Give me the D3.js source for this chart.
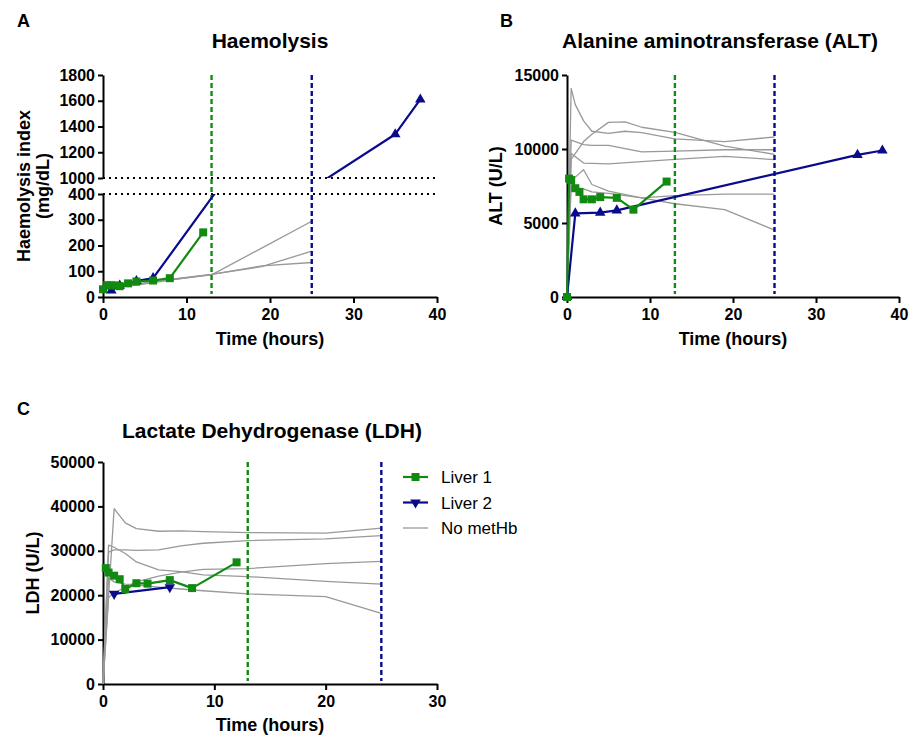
<!DOCTYPE html>
<html><head><meta charset="utf-8">
<script src="https://cdn.jsdelivr.net/npm/d3@7"></script>
<style>body{margin:0;background:#fff} svg text{font-family:"Liberation Sans",Arial,Helvetica,sans-serif}</style>
</head><body><svg id="c" width="909" height="737"></svg>
<script>
// ---------- DATA ----------
// Panel A: Haemolysis index (mg/dL) vs time (hours)
const haemoLiver1 = [[0,30],[0.5,46],[1,45],[1.5,45],[2,42],[3,53],[4,60],[6,64],[8,73],[12,251]];
const haemoLiver2 = [[1,25],[2,44],[4,62],[6,73],[25,920],[35,1340],[38,1610]];
const haemoNoMetHb = [
  [[0,30],[1,35],[2,40],[4,48],[6,58],[8,67],[13,86],[19,190],[25,294]],
  [[0,32],[1,37],[2,42],[4,50],[6,60],[8,68],[13,88],[19,118],[25,178]],
  [[0,28],[1,34],[2,39],[4,46],[6,56],[8,66],[13,88],[19,121],[25,134]]
];
const haemoTicksLow = [0,100,200,300,400];
const haemoTicksHigh = [1000,1200,1400,1600,1800];

// Panel B: ALT (U/L)
const altLiver1 = [[0,0],[0.25,8000],[0.5,7900],[1,7350],[1.5,7100],[2,6600],[3,6600],[4,6750],[6,6700],[8,5900],[12,7800]];
const altLiver2 = [[0,0],[1,5650],[4,5700],[6,5850],[35,9600],[38,9900]];
const altNoMetHb = [
  [[0,0],[0.5,14100],[1,13000],[2,11900],[3,11200],[5,11050],[7,11200],[9,11100],[13,10680],[19,10500],[25,10810]],
  [[0,0],[0.5,9300],[2,10500],[3,11000],[5,11800],[7,11830],[9,11470],[13,11130],[19,10200],[25,9640]],
  [[0,0],[0.5,10600],[2,10300],[3,10250],[5,10250],[9,9800],[13,9850],[19,9950],[25,9950]],
  [[0,0],[0.5,9700],[2,9050],[5,9000],[9,9150],[13,9300],[19,9500],[25,9280]],
  [[0,0],[0.5,8150],[1,8100],[2,8600],[3,7600],[5,7150],[9,6700],[13,6300],[19,5900],[25,4520]],
  [[0,0],[0.5,7400],[2,7300],[3,7100],[5,7000],[9,6700],[13,6850],[19,6950],[25,6950]]
];
const altTicks = [0,5000,10000,15000];

// Panel C: LDH (U/L)
const ldhLiver1 = [[0.25,26100],[0.5,25100],[1,24400],[1.5,23600],[2,21400],[3,22700],[4,22600],[6,23400],[8,21600],[12,27400]];
const ldhLiver2 = [[1,20300],[6,21800]];
const ldhNoMetHb = [
  [[0,0],[1,39500],[2,36300],[3,35000],[5,34400],[7,34500],[9,34300],[13,34100],[20,34000],[25,35100]],
  [[0,0],[0.5,31300],[1,30800],[2,29400],[3,27500],[5,25700],[7,25300],[9,24600],[13,24200],[20,23100],[25,22500]],
  [[0,0],[0.5,29700],[1,30200],[2,30200],[3,30100],[5,30200],[7,31100],[9,31700],[13,32300],[20,32700],[25,33400]],
  [[0,0],[0.5,19500],[1,20500],[2,21800],[3,23000],[5,24300],[7,25200],[9,25800],[13,26000],[20,27100],[25,27600]],
  [[0,0],[0.5,24000],[1,23000],[2,22500],[3,22300],[5,21800],[7,21400],[9,21000],[13,20300],[20,19700],[25,15900]]
];
const ldhTicks = [0,10000,20000,30000,40000,50000];

const timeTicks40 = [0,10,20,30,40];
const timeTicks30 = [0,10,20,30];
const endLiver1 = 13, endLiver2 = 25;   // dashed vertical markers (hours)
const legendLabels = ["Liver 1","Liver 2","No metHb"];

// ---------- STYLE ----------
const GREEN = "#118a11", BLUE = "#0a0a8c", GREY = "#999999";
const svg = d3.select("#c");
const fmt = d3.format("d");

function styleAxis(sel){
  sel.select(".domain").attr("stroke","#000").attr("stroke-width",2);
  sel.selectAll(".tick line").attr("stroke","#000").attr("stroke-width",2);
  sel.selectAll(".tick text").attr("fill","#000").attr("font-size",16).attr("font-weight","bold")
     .style("font-family",'"Liberation Sans",Arial,sans-serif');
}

function marker(type){
  if(type==="square") return d3.symbol().type(d3.symbolSquare).size(64)();
  if(type==="tri" || type==="triDown") return d3.symbol().type(d3.symbolTriangle).size(48)();
  return null;
}

function panel(o){
  const g = svg.append("g");
  const x = d3.scaleLinear().domain(o.xDomain).range(o.xRange);
  const segs = o.segments.map((s,i)=>{
    const y = d3.scaleLinear().domain(s.domain).range(s.range);
    const id = o.id+"clip"+i;
    const top = s.clipTop!=null ? s.clipTop : d3.min(s.range)-12;
    const bot = s.clipBot!=null ? s.clipBot : d3.max(s.range)+12;
    svg.append("clipPath").attr("id",id).append("rect")
      .attr("x",o.xRange[0]-12).attr("y",top).attr("width",o.xRange[1]-o.xRange[0]+24).attr("height",bot-top);
    return {...s,y,id};
  });
  const yTop = d3.min(segs, s=>d3.min(s.range));
  const yBot = d3.max(segs, s=>d3.max(s.range));

  // axes
  segs.forEach(s=>{
    const ax = g.append("g").attr("transform",`translate(${o.xRange[0]},0)`)
      .call(d3.axisLeft(s.y).tickValues(s.ticks).tickFormat(fmt).tickSize(5).tickPadding(3).tickSizeOuter(0));
    styleAxis(ax);
  });
  const xa = g.append("g").attr("transform",`translate(0,${yBot})`)
    .call(d3.axisBottom(x).tickValues(o.xTicks).tickFormat(fmt).tickSize(6).tickPadding(6).tickSizeOuter(0));
  styleAxis(xa);

  // break dotted lines
  if(o.breakLines){
    o.breakLines.forEach(v=>{
      const s = segs.find(s=>v>=s.domain[0] && v<=s.domain[1]);
      g.append("line").attr("x1",o.xRange[0]).attr("x2",o.xRange[1])
        .attr("y1",s.y(v)).attr("y2",s.y(v))
        .attr("stroke","#000").attr("stroke-width",2).attr("stroke-dasharray","2,4");
    });
  }

  const drawSeries = (data,color,width,mk)=>{
    segs.forEach(s=>{
      const line = d3.line().x(d=>x(d[0])).y(d=>s.y(d[1]));
      g.append("path").datum(data).attr("d",line).attr("fill","none")
        .attr("stroke",color).attr("stroke-width",width).attr("stroke-linejoin","round")
        .attr("clip-path",`url(#${s.id})`);
      if(mk){
        const pts = data.filter(d=>d[1]>=s.domain[0] && d[1]<=s.domain[1]);
        g.append("g").selectAll("path").data(pts).enter().append("path")
          .attr("d",marker(mk))
          .attr("transform",d=>`translate(${x(d[0])},${s.y(d[1])})${mk==="triDown"?" rotate(180)":""}`)
          .attr("fill",color);
      }
    });
  };

  o.grey.forEach(d=>drawSeries(d,GREY,1.3,null));

  // dashed vertical end markers
  [[endLiver1,GREEN],[endLiver2,BLUE]].forEach(([t,c])=>{
    g.append("line").attr("x1",x(t)).attr("x2",x(t)).attr("y1",yTop).attr("y2",yBot-3)
      .attr("stroke",c).attr("stroke-width",2.4).attr("stroke-dasharray","5,3");
  });

  drawSeries(o.liver2,BLUE,2.2,o.l2marker);
  drawSeries(o.liver1,GREEN,2.2,"square");

  // titles
  g.append("text").attr("x",o.letter[1]).attr("y",o.letter[2]).text(o.letter[0])
    .attr("font-size",18).attr("font-weight","bold");
  g.append("text").attr("x",o.title[1]).attr("y",o.title[2]).attr("text-anchor","middle").text(o.title[0])
    .attr("font-size",21).attr("font-weight","bold");
  g.append("text").attr("x",(o.xRange[0]+o.xRange[1])/2).attr("y",o.xTitleY).attr("text-anchor","middle")
    .text("Time (hours)").attr("font-size",18).attr("font-weight","bold");
  const yc = (yTop+yBot)/2;
  o.yTitle.forEach(([txt,bx])=>{
    g.append("text").attr("transform",`translate(${bx},${yc}) rotate(-90)`).attr("text-anchor","middle")
      .text(txt).attr("font-size",18).attr("font-weight","bold");
  });
  return {x,segs,g};
}

// Panel A (broken y-axis)
panel({
  id:"A", xDomain:[0,40], xRange:[103,437], xTicks:timeTicks40,
  segments:[
    {domain:[0,400], range:[297,194], ticks:haemoTicksLow, clipTop:194},
    {domain:[1000,1800], range:[178,75], ticks:haemoTicksHigh, clipBot:178}
  ],
  breakLines:[1000,400],
  grey:haemoNoMetHb, liver1:haemoLiver1, liver2:haemoLiver2, l2marker:"tri",
  letter:["A",17,27], title:["Haemolysis",270,48], xTitleY:345,
  yTitle:[["Haemolysis index",30],["(mg/dL)",49]]
});

// Panel B
panel({
  id:"B", xDomain:[0,40], xRange:[567,899], xTicks:timeTicks40,
  segments:[{domain:[0,15000], range:[297,75], ticks:altTicks}],
  grey:altNoMetHb, liver1:altLiver1, liver2:altLiver2, l2marker:"tri",
  letter:["B",500,27], title:["Alanine aminotransferase (ALT)",720,48], xTitleY:345,
  yTitle:[["ALT (U/L)",502]]
});

// Panel C
panel({
  id:"C", xDomain:[0,30], xRange:[103,437], xTicks:timeTicks30,
  segments:[{domain:[0,50000], range:[684,462], ticks:ldhTicks}],
  grey:ldhNoMetHb, liver1:ldhLiver1, liver2:ldhLiver2, l2marker:"triDown",
  letter:["C",17,415], title:["Lactate Dehydrogenase (LDH)",272,438], xTitleY:731,
  yTitle:[["LDH (U/L)",39]]
});

// Legend
const lg = svg.append("g");
const legendStyles = [[GREEN,2.2,"square"],[BLUE,2.2,"triDown"],[GREY,1.3,null]];
legendLabels.forEach((lab,i)=>{
  const yy = 477 + i*25.5;
  const [c,w,mk] = legendStyles[i];
  lg.append("line").attr("x1",403).attr("x2",428).attr("y1",yy).attr("y2",yy).attr("stroke",c).attr("stroke-width",w);
  if(mk) lg.append("path").attr("d",marker(mk)).attr("transform",`translate(415.5,${yy})${mk==="triDown"?" rotate(180)":""}`).attr("fill",c);
  lg.append("text").attr("x",441).attr("y",yy+6).text(lab).attr("font-size",17);
});
</script>
</body></html>
